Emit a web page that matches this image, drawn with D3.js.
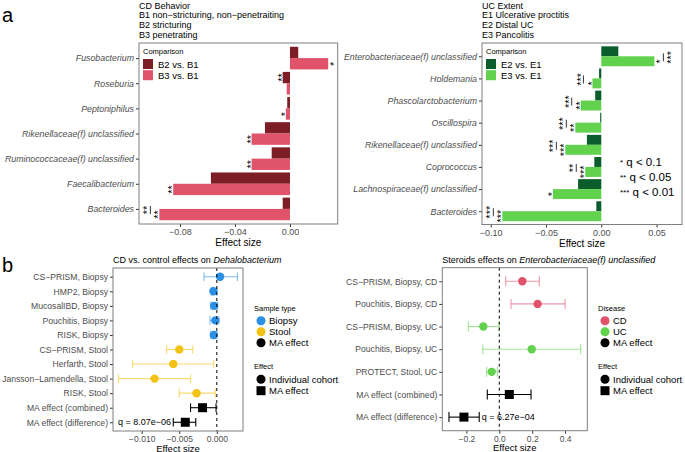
<!DOCTYPE html>
<html>
<head>
<meta charset="utf-8">
<script src="https://cdn.jsdelivr.net/npm/d3@7"></script>
<style>
  body { margin: 0; background: #ffffff; }
  svg { display: block; font-family: "Liberation Sans", Arial, Helvetica, sans-serif; }
  .tick text { fill: #4d4d4d; font-size: 9px; }
  .tick line { stroke: #333333; }
  .ylab-italic .tick text { font-style: italic; font-size: 8.8px; }
  .forest .tick text { font-size: 8.5px; }
  .frame { fill: none; stroke: #7f7f7f; stroke-width: 1; }
  .axis-title { font-size: 10px; fill: #000; text-anchor: middle; }
  .forest .axis-title { font-size: 9.5px; }
  .head { font-size: 9px; fill: #000; }
  .panel-tag { font-size: 20px; fill: #000; }
  .leg-title { font-size: 7.5px; fill: #000; }
  .leg-text { font-size: 9.5px; fill: #000; }
  .star { font-size: 11px; fill: #000; text-anchor: middle; }
  .note { font-size: 9px; fill: #000; }
</style>
</head>
<body>
<div id="chart"></div>
<script>
'use strict';

// panel a (left): CD behaviour
const behaviorTaxa = ["Fusobacterium", "Roseburia", "Peptoniphilus", "Rikenellaceae(f) unclassified",
  "Ruminococcaceae(f) unclassified", "Faecalibacterium", "Bacteroides"];
const b2Effect = [0.006, -0.0053, -0.002, -0.0182, -0.0133, -0.0575, -0.0053];
const b3Effect = [0.0278, -0.0024, -0.003, -0.0279, -0.0279, -0.0849, -0.095];
const b2Stars = ["", "**", "", "", "", "", ""];
const b3Stars = ["*", "", "*", "**", "**", "**", "**"];
const behaviorPairStars = ["", "", "", "", "", "", "**"];
const behaviorTicks = [-0.08, -0.04, 0.00];
const behaviorHead = ["CD Behavior", "B1 non\u2212stricturing, non\u2212penetraiting", "B2 stricturing", "B3 penetrating"];

// panel a (right): UC extent
const extentTaxa = ["Enterobacteriaceae(f) unclassified", "Holdemania", "Phascolarctobacterium", "Oscillospira",
  "Rikenellaceae(f) unclassified", "Coprococcus", "Lachnospiraceae(f) unclassified", "Bacteroides"];
const e2Effect = [0.0154, -0.002, -0.0055, -0.001, -0.013, -0.0063, -0.021, -0.0045];
const e3Effect = [0.048, -0.008, -0.0186, -0.0235, -0.0325, -0.0145, -0.0437, -0.0895];
const e2Stars = ["", "", "", "", "", "", "", ""];
const e3Stars = ["*", "*", "**", "**", "***", "***", "*", "***"];
const extentPairStars = ["***", "***", "***", "***", "***", "**", "", "***"];
const extentTicks = [-0.10, -0.05, 0.00, 0.05];
const extentHead = ["UC Extent", "E1 Ulcerative proctitis", "E2 Distal UC", "E3 Pancolitis"];
const qStars = ["*", "**", "***"];
const qText = [" q < 0.1", " q < 0.05", " q < 0.01"];

// panel b (left): Dehalobacterium
const dehaloCohorts = ["CS\u2212PRISM, Biopsy", "HMP2, Biopsy", "MucosalIBD, Biopsy", "Pouchitis, Biopsy", "RISK, Biopsy",
  "CS\u2212PRISM, Stool", "Herfarth, Stool", "Jansson\u2212Lamendella, Stool", "RISK, Stool",
  "MA effect (combined)", "MA effect (difference)"];
const dehaloEffect = [0.00044, -0.00045, -0.00036, -0.0002, -0.0004, -0.005, -0.0058, -0.0083, -0.0027, -0.0019, -0.0042];
const dehaloLow = [-0.0017, -0.0007, -0.0008, -0.0009, -0.0008, -0.0067, -0.0112, -0.0131, -0.005, -0.0035, -0.0058];
const dehaloHigh = [0.00275, 0.0, 0.0001, 0.0003, 0.0, -0.0032, -0.0004, -0.0035, -0.0002, -0.0001, -0.0028];
const dehaloGroup = ["Biopsy", "Biopsy", "Biopsy", "Biopsy", "Biopsy", "Stool", "Stool", "Stool", "Stool", "MA effect", "MA effect"];
const dehaloTicks = [-0.010, -0.005, 0.000];
const sampleTypes = ["Biopsy", "Stool", "MA effect"];
const sampleColors = ["#2b8fe3", "#f2c314", "#000000"];

// panel b (right): Enterobacteriaceae and steroids
const steroidCohorts = ["CS\u2212PRISM, Biopsy, CD", "Pouchitis, Biopsy, CD", "CS\u2212PRISM, Biopsy, UC",
  "Pouchitis, Biopsy, UC", "PROTECT, Stool, UC", "MA effect (combined)", "MA effect (difference)"];
const steroidEffect = [0.14, 0.233, -0.097, 0.197, -0.046, 0.061, -0.215];
const steroidLow = [0.039, 0.071, -0.188, -0.1, -0.077, -0.073, -0.306];
const steroidHigh = [0.243, 0.4, -0.002, 0.495, -0.012, 0.193, -0.122];
const steroidGroup = ["CD", "CD", "UC", "UC", "UC", "MA effect", "MA effect"];
const steroidTicks = [-0.2, 0.0, 0.2, 0.4];
const diseases = ["CD", "UC", "MA effect"];
const diseaseColors = ["#e0536a", "#62d14e", "#000000"];

const effectShapes = ["Individual cohort", "MA effect"];

class BarPanel {
  constructor (svg, props) {
    Object.assign(this, props);
    this.svg = svg;
  }

  render () {
    this.g = this.svg.append('g');
    this.computeScales();
    this.addHead();
    this.addAxes();
    this.addBars();
    this.addStars();
    this.g.append('rect').attr('class', 'frame')
      .attr('x', this.box[0]).attr('y', this.box[1])
      .attr('width', this.box[2] - this.box[0]).attr('height', this.box[3] - this.box[1]);
    this.addLegend();
  }

  computeScales () {
    const [x0, y0, x1, y1] = this.box;
    this.x = d3.scaleLinear().domain(this.xDomain).range([x0, x1]);
    this.y = d3.scalePoint().domain(this.taxa).range([y0, y1]).padding(0.6);
    // dodge width 0.9, two bars per row
    this.bw = this.y.step() * 0.45;
  }

  addHead () {
    this.g.selectAll('.head').data(this.head).enter().append('text')
      .attr('class', 'head')
      .attr('x', this.box[0])
      .attr('y', (d, i) => 8.5 + i * 9.8)
      .text(d => d);
  }

  addAxes () {
    const [x0, y0, x1, y1] = this.box;
    const xAxis = this.g.append('g')
      .attr('transform', `translate(0,${y1})`)
      .call(d3.axisBottom(this.x).tickValues(this.ticks).tickFormat(d3.format('.2f')).tickSize(3).tickPadding(2));
    xAxis.select('.domain').remove();

    const yAxis = this.g.append('g')
      .attr('class', 'ylab-italic')
      .attr('transform', `translate(${x0},0)`)
      .call(d3.axisLeft(this.y).tickSize(3).tickPadding(2));
    yAxis.select('.domain').remove();

    this.g.append('text').attr('class', 'axis-title')
      .attr('x', (x0 + x1) / 2).attr('y', y1 + 22)
      .text('Effect size');
  }

  addBars () {
    const x = this.x, y = this.y, bw = this.bw;
    this.series.forEach((s, k) => {
      this.g.selectAll('.bar' + k)
        .data(s.values)
        .enter().append('rect')
        .attr('class', 'bar' + k)
        .attr('x', d => Math.min(x(0), x(d)))
        .attr('y', (d, i) => y(this.taxa[i]) - bw + k * bw)
        .attr('width', d => Math.abs(x(d) - x(0)))
        .attr('height', bw)
        .style('fill', s.color);
    });
  }

  addStars () {
    const x = this.x, y = this.y, bw = this.bw;
    const marks = [];
    const bars = [];
    this.series.forEach((s, k) => {
      s.values.forEach((v, i) => {
        if (!s.stars[i]) return;
        const dir = v < 0 ? -1 : 1;
        marks.push({ x: x(v) + dir * 3.5, y: y(this.taxa[i]) - bw + (k + 0.5) * bw, text: s.stars[i] });
      });
    });
    // bracket between the two comparisons, beyond the longer bar
    this.pairStars.forEach((p, i) => {
      if (!p) return;
      const far = this.series.map(s => s.values[i]).reduce((a, b) => Math.abs(b) > Math.abs(a) ? b : a);
      const dir = far < 0 ? -1 : 1;
      const cy = y(this.taxa[i]) + 1;
      bars.push({ x: x(far) + dir * 9, y: cy });
      marks.push({ x: x(far) + dir * 14.5, y: cy, text: p });
    });

    this.g.selectAll('.pairLine').data(bars).enter().append('line')
      .attr('class', 'pairLine')
      .attr('x1', d => d.x).attr('x2', d => d.x)
      .attr('y1', d => d.y - 4).attr('y2', d => d.y + 4)
      .style('stroke', '#000').style('stroke-width', 0.8);

    this.g.selectAll('.star').data(marks).enter().append('text')
      .attr('class', 'star')
      .attr('transform', d => `translate(${d.x},${d.y}) rotate(-90)`)
      .attr('dy', '0.6em')
      .text(d => d.text);
  }

  addLegend () {
    const lx = this.box[0] + 4;
    const lg = this.g.append('g');
    lg.append('text').attr('class', 'leg-title').attr('x', lx).attr('y', 53.5).text('Comparison');
    const items = lg.selectAll('.key').data(this.series).enter().append('g').attr('class', 'key');
    items.append('rect')
      .attr('x', lx).attr('y', (d, i) => 59 + i * 11.2)
      .attr('width', 10).attr('height', 10)
      .style('fill', d => d.color);
    items.append('text').attr('class', 'leg-text')
      .attr('x', lx + 15).attr('y', (d, i) => 67.5 + i * 11.2)
      .text(d => d.name);
  }
}

class ForestPanel {
  constructor (svg, props) {
    Object.assign(this, props);
    this.svg = svg;
  }

  render () {
    this.g = this.svg.append('g').attr('class', 'forest');
    const [x0, y0, x1, y1] = this.box;
    this.x = d3.scaleLinear().domain(this.xDomain).range([x0, x1]);
    this.y = d3.scalePoint().domain(this.cohorts).range([y0, y1]).padding(0.6);
    this.color = d3.scaleOrdinal().domain(this.groups).range(this.colors);

    this.addTitle();
    this.addAxes();
    this.addErrorBars();
    this.addPoints();
    this.addZeroLine();
    this.g.append('rect').attr('class', 'frame')
      .attr('x', x0).attr('y', y0).attr('width', x1 - x0).attr('height', y1 - y0);
    this.g.append('text').attr('class', 'note')
      .attr('x', this.x(this.noteAt)).attr('y', this.y(this.cohorts[this.cohorts.length - 1]))
      .attr('dy', '0.35em')
      .text(this.note);
    this.addLegend();
  }

  addTitle () {
    const t = this.g.append('text').attr('class', 'head')
      .attr('x', this.box[0]).attr('y', this.box[1] - 5);
    t.append('tspan').text(this.title[0]);
    t.append('tspan').style('font-style', 'italic').text(this.title[1]);
  }

  addAxes () {
    const [x0, y0, x1, y1] = this.box;
    const xAxis = this.g.append('g')
      .attr('transform', `translate(0,${y1})`)
      .call(d3.axisBottom(this.x).tickValues(this.ticks).tickFormat(d3.format(this.tickFormat)).tickSize(3).tickPadding(2));
    xAxis.select('.domain').remove();
    const yAxis = this.g.append('g')
      .attr('transform', `translate(${x0},0)`)
      .call(d3.axisLeft(this.y).tickSize(3).tickPadding(2));
    yAxis.select('.domain').remove();
    yAxis.selectAll('.tick text').style('font-size', '8.6px');
    this.g.append('text').attr('class', 'axis-title')
      .attr('x', (x0 + x1) / 2).attr('y', y1 + 20.5)
      .text('Effect size');
  }

  addErrorBars () {
    const x = this.x, y = this.y, cap = this.capH / 2;
    const rows = this.cohorts.map((c, i) => ({
      y: y(c), lo: this.low[i], hi: this.high[i], col: this.color(this.group[i]),
      op: this.group[i] === 'MA effect' ? 1 : 0.6
    }));
    const eb = this.g.selectAll('.eb').data(rows).enter().append('g').attr('class', 'eb')
      .style('stroke', d => d.col).style('stroke-opacity', d => d.op).style('stroke-width', 1.1);
    eb.append('line').attr('x1', d => x(d.lo)).attr('x2', d => x(d.hi)).attr('y1', d => d.y).attr('y2', d => d.y);
    eb.append('line').attr('x1', d => x(d.lo)).attr('x2', d => x(d.lo)).attr('y1', d => d.y - cap).attr('y2', d => d.y + cap);
    eb.append('line').attr('x1', d => x(d.hi)).attr('x2', d => x(d.hi)).attr('y1', d => d.y - cap).attr('y2', d => d.y + cap);
  }

  addPoints () {
    const x = this.x, y = this.y;
    const cohort = this.cohorts.map((c, i) => ({ c, v: this.effect[i], g: this.group[i] }));
    this.g.selectAll('.pt').data(cohort.filter(d => d.g !== 'MA effect')).enter().append('circle')
      .attr('class', 'pt')
      .attr('cx', d => x(d.v)).attr('cy', d => y(d.c)).attr('r', 4.2)
      .style('fill', d => this.color(d.g));
    this.g.selectAll('.ma').data(cohort.filter(d => d.g === 'MA effect')).enter().append('rect')
      .attr('class', 'ma')
      .attr('x', d => x(d.v) - 4.5).attr('y', d => y(d.c) - 4.5)
      .attr('width', 9).attr('height', 9)
      .style('fill', '#000');
  }

  addZeroLine () {
    this.g.append('line')
      .attr('x1', this.x(0)).attr('x2', this.x(0))
      .attr('y1', this.box[1]).attr('y2', this.box[3])
      .style('stroke', '#000').style('stroke-width', 1).style('stroke-dasharray', '3,3');
  }

  addLegend () {
    const lx = this.legendX;
    const lg = this.g.append('g');
    lg.append('text').attr('class', 'leg-title').attr('x', lx).attr('y', 311).text(this.legendTitle);
    lg.selectAll('.lc').data(this.groups).enter().append('circle')
      .attr('cx', lx + 7).attr('cy', (d, i) => 320.7 + i * 11)
      .attr('r', 4.5).style('fill', d => this.color(d));
    lg.selectAll('.lt').data(this.groups).enter().append('text').attr('class', 'leg-text')
      .attr('x', lx + 15).attr('y', (d, i) => 324 + i * 11).text(d => d);

    lg.append('text').attr('class', 'leg-title').attr('x', lx).attr('y', 369).text('Effect');
    lg.append('circle').attr('cx', lx + 7).attr('cy', 379.3).attr('r', 4.5).style('fill', '#000');
    lg.append('rect').attr('x', lx + 2.5).attr('y', 386.2).attr('width', 9).attr('height', 9).style('fill', '#000');
    lg.selectAll('.st').data(effectShapes).enter().append('text').attr('class', 'leg-text')
      .attr('x', lx + 15).attr('y', (d, i) => 382.6 + i * 11.4).text(d => d);
  }
}

const svg = d3.select('#chart').append('svg').attr('width', 685).attr('height', 452);
svg.append('text').attr('class', 'panel-tag').attr('x', 2).attr('y', 22).text('a');
svg.append('text').attr('class', 'panel-tag').attr('x', 2).attr('y', 272).text('b');

new BarPanel(svg, {
  box: [139, 43, 337.7, 224],
  xDomain: [-0.1098, 0.0347],
  ticks: behaviorTicks,
  taxa: behaviorTaxa,
  head: behaviorHead,
  series: [
    { name: 'B2 vs. B1', values: b2Effect, stars: b2Stars, color: '#7d1d25' },
    { name: 'B3 vs. B1', values: b3Effect, stars: b3Stars, color: '#e0536a' }
  ],
  pairStars: behaviorPairStars
}).render();

const extent = new BarPanel(svg, {
  box: [482, 43, 682, 224.5],
  xDomain: [-0.1079, 0.0730],
  ticks: extentTicks,
  taxa: extentTaxa,
  head: extentHead,
  series: [
    { name: 'E2 vs. E1', values: e2Effect, stars: e2Stars, color: '#0b5e2c' },
    { name: 'E3 vs. E1', values: e3Effect, stars: e3Stars, color: '#62d14e' }
  ],
  pairStars: extentPairStars
});
extent.render();

// significance key
const qKey = svg.selectAll('.qkey').data(qStars).enter().append('text')
  .attr('class', 'qkey')
  .attr('x', 620)
  .attr('y', (d, i) => 166 + i * 15);
qKey.append('tspan').style('font-size', '8px').attr('dy', '-1').text(d => d);
qKey.append('tspan').style('font-size', '11.5px').attr('dy', '1').text((d, i) => qText[i]);

new ForestPanel(svg, {
  box: [113, 268, 243, 431],
  xDomain: [-0.01383, 0.00349],
  ticks: dehaloTicks,
  tickFormat: '.3f',
  cohorts: dehaloCohorts,
  effect: dehaloEffect,
  low: dehaloLow,
  high: dehaloHigh,
  group: dehaloGroup,
  groups: sampleTypes,
  colors: sampleColors,
  capH: 8.7,
  title: ['CD vs. control effects on ', 'Dehalobacterium'],
  note: 'q = 8.07e\u221206',
  noteAt: -0.01316,
  legendTitle: 'Sample type',
  legendX: 254
}).render();

new ForestPanel(svg, {
  box: [442.3, 267.7, 587.3, 430.7],
  xDomain: [-0.3465, 0.535],
  ticks: steroidTicks,
  tickFormat: '.1f',
  cohorts: steroidCohorts,
  effect: steroidEffect,
  low: steroidLow,
  high: steroidHigh,
  group: steroidGroup,
  groups: diseases,
  colors: diseaseColors,
  capH: 10,
  title: ['Steroids effects on ', 'Enterobacteriaceae(f) unclassified'],
  note: 'q = 6.27e\u221204',
  noteAt: -0.107,
  legendTitle: 'Disease',
  legendX: 598
}).render();
</script>
</body>
</html>
